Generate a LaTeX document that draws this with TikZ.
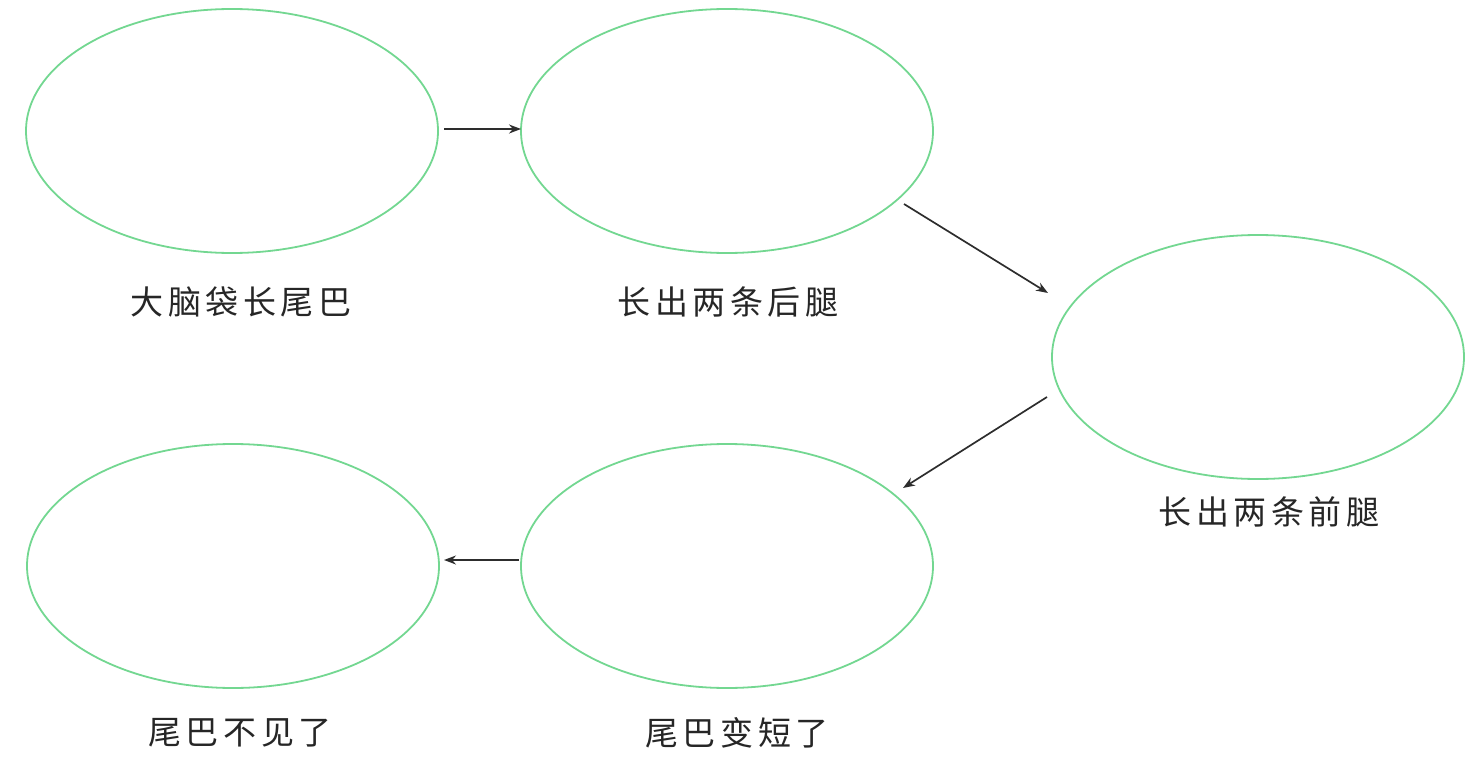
\documentclass[tikz,border=0pt]{standalone}
\usepackage{fontspec}
\newfontfamily\cjk[LetterSpace=14]{Noto Sans CJK SC}
\usetikzlibrary{arrows.meta,shapes.geometric}
\definecolor{egreen}{RGB}{115,215,145}
\definecolor{arr}{RGB}{45,45,45}
\begin{document}
\begin{tikzpicture}[x=1pt,y=-1pt,
  stage/.style={draw=egreen,line width=1.8pt,ellipse,minimum width=412pt,minimum height=244pt,inner sep=0pt},
  lbl/.style={font=\cjk\fontsize{33pt}{36pt}\selectfont,text=black!85,inner sep=0pt},
  flow/.style={draw=arr,line width=1.7pt,-{Stealth[length=12pt,width=9pt]}}]
\useasboundingbox (0,0) rectangle (1484,768);
\node[stage] (e1) at (232,131) {};
\node[stage] (e2) at (727,131) {};
\node[stage] (e3) at (1258,357) {};
\node[stage] (e4) at (727,566) {};
\node[stage] (e5) at (233,566) {};
\node[lbl] (t1) at (241,302) {大脑袋长尾巴};
\node[lbl] (t2) at (728,302) {长出两条后腿};
\node[lbl] (t3) at (1269,512) {长出两条前腿};
\node[lbl] (t4) at (240,733) {尾巴不见了};
\node[lbl] (t5) at (737,733) {尾巴变短了};
\coordinate (a1s) at (444,129);
\coordinate (a1e) at (521,129);
\coordinate (a2s) at (904,204);
\coordinate (a2e) at (1048,293);
\coordinate (a3s) at (1047,397);
\coordinate (a3e) at (903,488);
\coordinate (a4s) at (519,560);
\coordinate (a4e) at (444,560);
\draw[flow] (a1s) -- (a1e);
\draw[flow] (a2s) -- (a2e);
\draw[flow] (a3s) -- (a3e);
\draw[flow] (a4s) -- (a4e);
\end{tikzpicture}
\end{document}
